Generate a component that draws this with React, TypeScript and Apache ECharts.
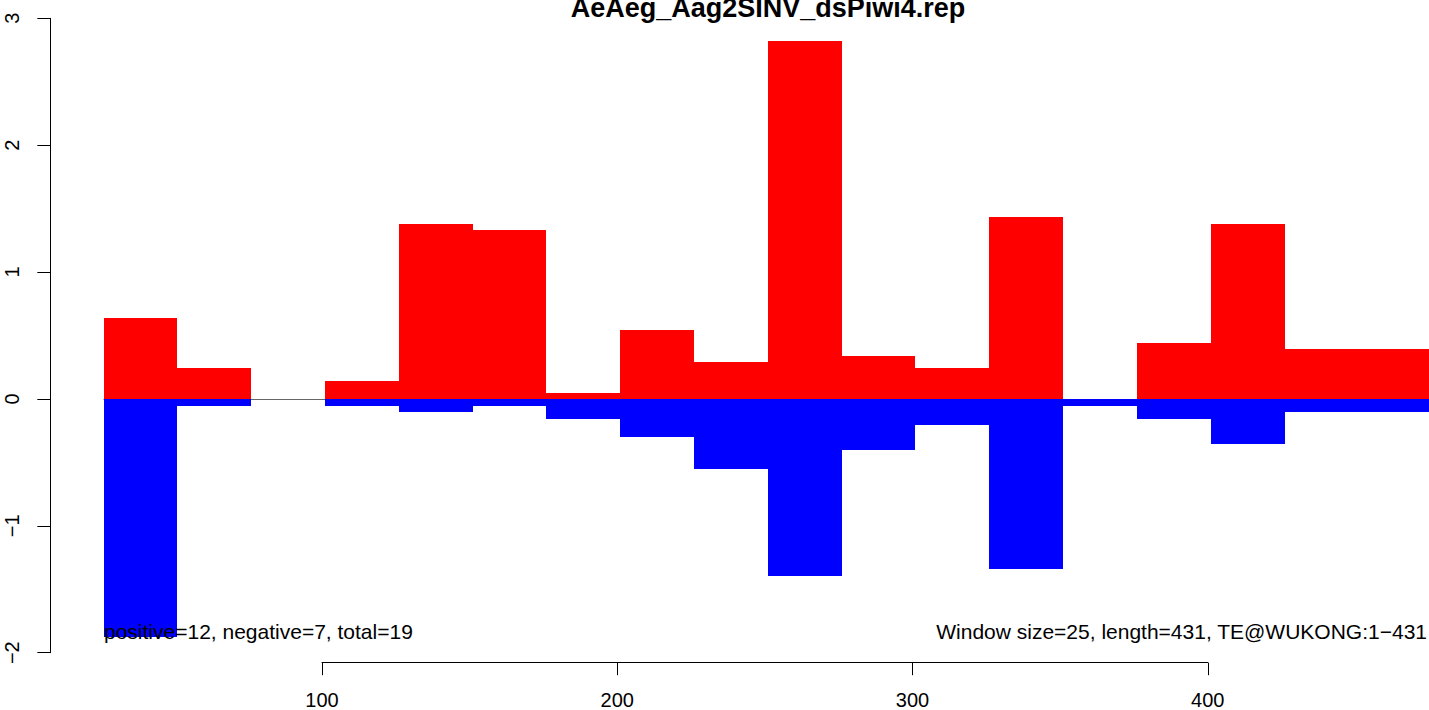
import React, { useEffect, useRef } from "react";
import * as echarts from "echarts";

// Window start positions (each window is WINDOW wide)
const WINDOW = 25;
const windowStarts = [26, 51, 76, 101, 126, 151, 176, 201, 226, 251, 276, 301, 326, 351, 376, 401, 426, 451];
// Positive-strand (red) and negative-strand (blue) values per window
const positiveValues = [0.638, 0.244, 0, 0.142, 1.379, 1.332, 0.047, 0.544, 0.292, 2.821, 0.339, 0.244, 1.434, 0, 0.441, 1.379, 0.394, 0.394];
const negativeValues = [-1.878, -0.055, 0, -0.055, -0.102, -0.055, -0.158, -0.299, -0.552, -1.395, -0.402, -0.205, -1.34, -0.055, -0.158, -0.355, -0.1, -0.1];

const xTicks = [100, 200, 300, 400];
const yTicks = [-2, -1, 0, 1, 2, 3];

const TITLE = "AeAeg_Aag2SINV_dsPiwi4.rep";
const LEFT_NOTE = "positive=12, negative=7, total=19";
const RIGHT_NOTE = "Window size=25, length=431, TE@WUKONG:1\u2212431";

const FONT = "'Liberation Sans', Arial, Helvetica, sans-serif";

export default function App() {
  const ref = useRef<HTMLDivElement>(null);
  useEffect(() => {
    if (!ref.current) return;
    const chart = echarts.init(ref.current, undefined, { renderer: "svg" });
    const data = windowStarts.map((s, i) => [s, s + WINDOW, positiveValues[i], negativeValues[i]]);
    const lastEnd = windowStarts[windowStarts.length - 1] + WINDOW;
    const option: any = {
      animation: false,
      backgroundColor: "#ffffff",
      grid: { left: 322, top: 18.3, width: 885.75, height: 634.4, containLabel: false },
      xAxis: {
        type: "value",
        min: xTicks[0],
        max: xTicks[xTicks.length - 1],
        interval: 100,
        offset: 10,
        axisLine: { show: true, onZero: false, lineStyle: { color: "#000", width: 1 } },
        axisTick: { show: true, length: 12.5, lineStyle: { color: "#000", width: 1 } },
        axisLabel: { color: "#000", fontSize: 20, fontFamily: FONT, margin: 27 },
        splitLine: { show: false },
      },
      yAxis: {
        type: "value",
        min: yTicks[0],
        max: yTicks[yTicks.length - 1],
        interval: 1,
        offset: 271.7,
        axisLine: { show: true, onZero: false, lineStyle: { color: "#000", width: 1 } },
        axisTick: { show: true, length: 13, lineStyle: { color: "#000", width: 1 } },
        axisLabel: {
          color: "#000",
          fontSize: 20,
          fontFamily: FONT,
          rotate: 90,
          margin: 28,
          formatter: (v: number) => String(v).replace("-", "\u2212"),
        },
        splitLine: { show: false },
      },
      series: [
        {
          type: "custom",
          clip: false,
          silent: true,
          z: 1,
          data: [[windowStarts[0], lastEnd]],
          renderItem: (params: any, api: any) => {
            const a = api.coord([api.value(0), 0]);
            const b = api.coord([api.value(1), 0]);
            const y = Math.round(a[1]) + 0.5;
            return {
              type: "line",
              shape: { x1: a[0], y1: y, x2: b[0], y2: y },
              style: { stroke: "#666666", lineWidth: 1 },
            };
          },
        },
        {
          type: "custom",
          clip: false,
          z: 2,
          data,
          renderItem: (params: any, api: any) => {
            const x0 = api.value(0);
            const x1 = api.value(1);
            const p = api.value(2);
            const n = api.value(3);
            const a = api.coord([x0, 0]);
            const b = api.coord([x1, p]);
            const c = api.coord([x1, n]);
            const L = Math.round(a[0]);
            const R = Math.round(b[0]);
            const Z = Math.round(a[1]);
            const T = Math.round(b[1]);
            const B = Math.round(c[1]);
            return {
              type: "group",
              children: [
                {
                  type: "rect",
                  shape: { x: L, y: T, width: R - L, height: Z - T },
                  style: { fill: "#ff0000" },
                },
                {
                  type: "rect",
                  shape: { x: L, y: Z, width: R - L, height: B - Z },
                  style: { fill: "#0000ff" },
                },
              ],
            };
          },
        },
      ],
      graphic: [
        {
          type: "text",
          x: 768,
          y: 21,
          z: 100,
          style: {
            text: TITLE,
            textAlign: "center",
            textVerticalAlign: "bottom",
            font: `bold 27px ${FONT}`,
            fill: "#000",
          },
        },
        {
          type: "text",
          x: 104,
          y: 631,
          z: 100,
          style: {
            text: LEFT_NOTE,
            textAlign: "left",
            textVerticalAlign: "middle",
            font: `21px ${FONT}`,
            fill: "#000",
          },
        },
        {
          type: "text",
          x: 1427,
          y: 631,
          z: 100,
          style: {
            text: RIGHT_NOTE,
            textAlign: "right",
            textVerticalAlign: "middle",
            font: `21px ${FONT}`,
            fill: "#000",
          },
        },
      ],
    };
    chart.setOption(option);
    return () => chart.dispose();
  }, []);
  return (
    <div
      ref={ref}
      style={{ position: "absolute", left: 0, top: 0, width: 1429, height: 710, background: "#fff" }}
    />
  );
}
